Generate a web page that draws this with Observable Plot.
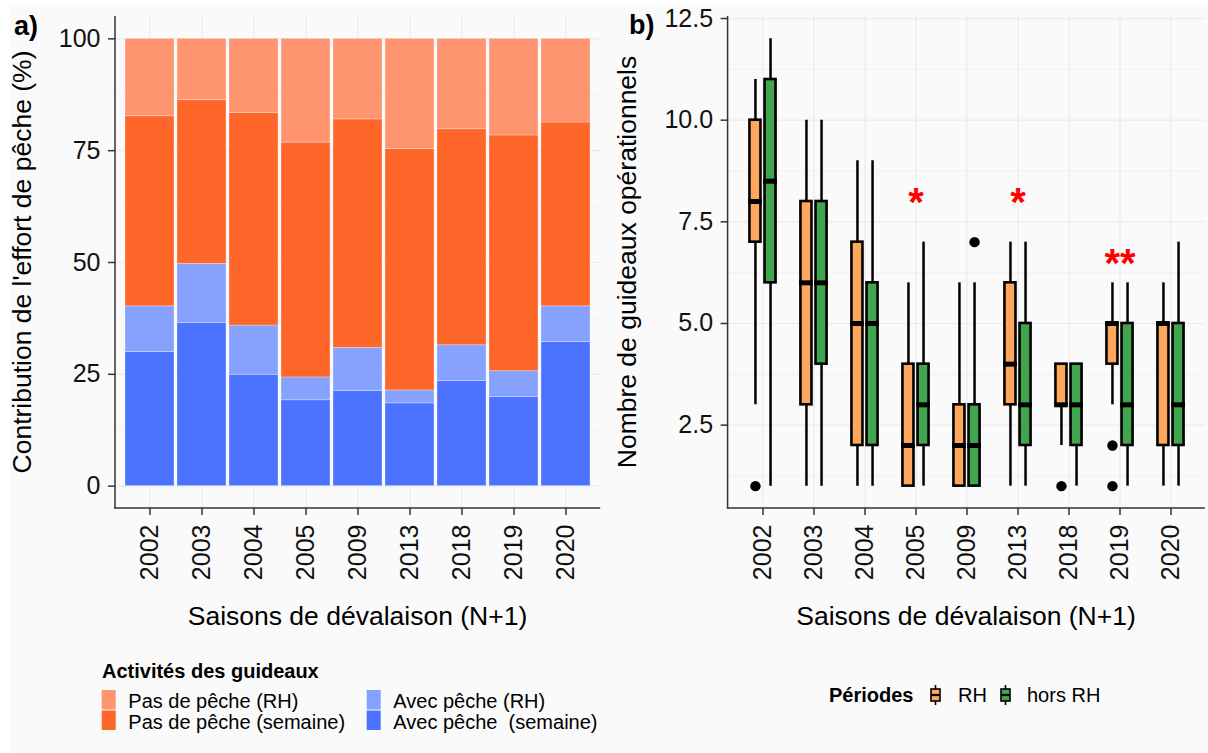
<!DOCTYPE html>
<html>
<head>
<meta charset="utf-8">
<script src="https://cdn.jsdelivr.net/npm/d3@7"></script>
<script src="https://cdn.jsdelivr.net/npm/@observablehq/plot@0.6"></script>
<style>
  html, body { margin: 0; padding: 0; background: #ffffff; }
  #root { position: relative; width: 1208px; height: 753px; overflow: hidden; font-family: "Liberation Sans", Arial, sans-serif; }
  #bg { position: absolute; left: 10px; top: 4px; right: 0; bottom: 0; background: #FAFAFA; }
  .panel { position: absolute; top: 0; }
  #overlay { position: absolute; left: 0; top: 0; pointer-events: none; }
  #overlay text { white-space: pre; }
</style>
</head>
<body>
<div id="root">
  <div id="bg"></div>
  <div id="panelA" class="panel" style="left:0px"></div>
  <div id="panelB" class="panel" style="left:610px"></div>
  <svg id="overlay" width="1208" height="753"></svg>
</div>
<script>
// ---------------- DATA ----------------
const years = ["2002", "2003", "2004", "2005", "2009", "2013", "2018", "2019", "2020"];

// Panel a) : contribution (%) of each activity, stacked bottom -> top
const activityNames = ["Avec pêche  (semaine)", "Avec pêche (RH)", "Pas de pêche (semaine)", "Pas de pêche (RH)"];
const activityColors = ["#4C73FF", "#87A1FF", "#FF6629", "#FF9470"];
const avecPecheSemaine = [30.0, 36.5, 24.9, 19.2, 21.3, 18.5, 23.5, 19.9, 32.2];
const avecPecheRH      = [10.2, 13.2, 11.0,  5.1,  9.6,  2.9,  8.0,  5.8,  8.0];
const pasPecheSemaine  = [42.5, 36.6, 47.5, 52.5, 51.1, 54.0, 48.3, 52.7, 41.1];
const pasPecheRH       = [17.3, 13.7, 16.6, 23.2, 18.0, 24.6, 20.2, 21.6, 18.7];
const yTicksA = [0, 25, 50, 75, 100];

// Panel b) : boxplot summaries, number of operational guideaux
const periodNames = ["RH", "hors RH"];
const periodColors = ["#FFA65D", "#41A44E"];
// RH
const rhLow  = [3, 1, 1, 1, 1, 1, 2, 3, 1];
const rhQ1   = [7, 3, 2, 1, 1, 3, 3, 4, 2];
const rhMed  = [8, 6, 5, 2, 2, 4, 3, 5, 5];
const rhQ3   = [10, 8, 7, 4, 3, 6, 4, 5, 5];
const rhHigh = [11, 10, 9, 6, 6, 7, 4, 6, 6];
const rhOutYears  = ["2002", "2018", "2019", "2019"];
const rhOutValues = [1, 1, 2, 1];
// hors RH
const hoLow  = [1, 1, 1, 1, 1, 1, 1, 1, 1];
const hoQ1   = [6, 4, 2, 2, 1, 2, 2, 2, 2];
const hoMed  = [8.5, 6, 5, 3, 2, 3, 3, 3, 3];
const hoQ3   = [11, 8, 6, 4, 3, 5, 4, 5, 5];
const hoHigh = [12, 10, 9, 7, 6, 7, 4, 6, 7];
const hoOutYears  = ["2009"];
const hoOutValues = [7];
// significance marks
const sigYears  = ["2005", "2013", "2019"];
const sigLabels = ["*", "*", "**"];
const sigY      = [8.2, 8.2, 6.7];
const yTicksB = [2.5, 5.0, 7.5, 10.0, 12.5];

// ---------------- TABLES ----------------
const seriesA = [avecPecheSemaine, avecPecheRH, pasPecheSemaine, pasPecheRH];
const barData = years.flatMap((yr, i) => activityNames.map((a, j) => ({year: yr, activity: a, value: seriesA[j][i]})));
const mkBox = (lo, q1, med, q3, hi) => years.map((yr, i) => ({year: yr, lo: lo[i], q1: q1[i], med: med[i], q3: q3[i], hi: hi[i]}));
const rhBoxes = mkBox(rhLow, rhQ1, rhMed, rhQ3, rhHigh);
const hoBoxes = mkBox(hoLow, hoQ1, hoMed, hoQ3, hoHigh);
const rhOut = rhOutYears.map((yr, i) => ({year: yr, v: rhOutValues[i]}));
const hoOut = hoOutYears.map((yr, i) => ({year: yr, v: hoOutValues[i]}));
const sig = sigYears.map((yr, i) => ({year: yr, label: sigLabels[i], y: sigY[i]}));

// ---------------- HELPERS ----------------
const FONT = "'Liberation Sans', Arial, Helvetica, sans-serif";
const GRID = "#EBEBEB";
const AXIS = "#333333";
function axisLines() {
  return (index, scales, values, dims) => {
    const g = d3.create("svg:g");
    const x0 = dims.marginLeft, x1 = dims.width - dims.marginRight;
    const y0 = dims.marginTop, y1 = dims.height - dims.marginBottom;
    g.append("line").attr("x1", x0).attr("x2", x0).attr("y1", y0).attr("y2", y1 + 0.75)
      .attr("stroke", AXIS).attr("stroke-width", 1.5);
    g.append("line").attr("x1", x0 - 0.75).attr("x2", x1).attr("y1", y1).attr("y2", y1)
      .attr("stroke", AXIS).attr("stroke-width", 1.5);
    return g.node();
  };
}
const commonStyle = {background: "transparent", fontFamily: FONT, fontSize: "25px", color: "#111", overflow: "visible"};

// ---------------- PANEL A ----------------
const plotA = Plot.plot({
  width: 610, height: 590,
  marginLeft: 115, marginRight: 9.8, marginTop: 16, marginBottom: 82,
  style: commonStyle,
  x: {type: "band", domain: years, paddingInner: 0.05, paddingOuter: 0.125, align: 0.5},
  y: {domain: [-5, 105]},
  color: {domain: activityNames, range: activityColors},
  marks: [
    Plot.gridY([12.5, 37.5, 62.5, 87.5], {stroke: GRID, strokeOpacity: 1, strokeWidth: 0.6}),
    Plot.gridY(yTicksA, {stroke: GRID, strokeOpacity: 1, strokeWidth: 1.2}),
    Plot.gridX(years, {stroke: GRID, strokeOpacity: 1, strokeWidth: 1.2}),
    Plot.barY(barData, {x: "year", y: "value", fill: "activity", stroke: "#ffffff", strokeOpacity: 0.35, strokeWidth: 0.8}),
    Plot.axisX({tickRotate: -90, tickSize: 7, tickPadding: 9, label: null, stroke: AXIS, strokeWidth: 1.5}),
    Plot.axisY({ticks: yTicksA, tickSize: 7, tickPadding: 8, label: null, stroke: AXIS, strokeWidth: 1.5}),
    axisLines()
  ]
});
document.getElementById("panelA").appendChild(plotA);

// ---------------- PANEL B ----------------
const STEP_HALF = 25.93;       // half band width (px)
const BOX_OUT = 13.5, BOX_IN = 1.6;
const insL_RH = STEP_HALF - BOX_OUT, insR_RH = STEP_HALF + BOX_IN;
const insL_HO = STEP_HALF + BOX_IN, insR_HO = STEP_HALF - BOX_OUT;
const OFF = (BOX_OUT + BOX_IN) / 2;
const plotB = Plot.plot({
  width: 598, height: 590,
  marginLeft: 117.6, marginRight: 3.2, marginTop: 16, marginBottom: 82,
  style: commonStyle,
  x: {type: "band", domain: years, paddingInner: 0, paddingOuter: 0.1, align: 0.5},
  y: {domain: [0.45, 12.55]},
  marks: [
    Plot.gridY([1.25, 3.75, 6.25, 8.75, 11.25], {stroke: GRID, strokeOpacity: 1, strokeWidth: 0.6}),
    Plot.gridY(yTicksB, {stroke: GRID, strokeOpacity: 1, strokeWidth: 1.2}),
    Plot.gridX(years, {stroke: GRID, strokeOpacity: 1, strokeWidth: 1.2}),
    // whiskers
    Plot.ruleX(rhBoxes, {x: "year", y1: "lo", y2: "hi", dx: -OFF, stroke: "black", strokeWidth: 2.5}),
    Plot.ruleX(hoBoxes, {x: "year", y1: "lo", y2: "hi", dx: OFF, stroke: "black", strokeWidth: 2.5}),
    // boxes
    Plot.barY(rhBoxes, {x: "year", y1: "q1", y2: "q3", fill: periodColors[0], stroke: "black", strokeWidth: 2.6, insetLeft: insL_RH, insetRight: insR_RH}),
    Plot.barY(hoBoxes, {x: "year", y1: "q1", y2: "q3", fill: periodColors[1], stroke: "black", strokeWidth: 2.6, insetLeft: insL_HO, insetRight: insR_HO}),
    // medians
    Plot.tickY(rhBoxes, {x: "year", y: "med", stroke: "black", strokeWidth: 5, insetLeft: insL_RH - 1.3, insetRight: insR_RH - 1.3}),
    Plot.tickY(hoBoxes, {x: "year", y: "med", stroke: "black", strokeWidth: 5, insetLeft: insL_HO - 1.3, insetRight: insR_HO - 1.3}),
    // outliers
    Plot.dot(rhOut, {x: "year", y: "v", r: 5.2, fill: "black", stroke: "none", dx: -OFF}),
    Plot.dot(hoOut, {x: "year", y: "v", r: 5.2, fill: "black", stroke: "none", dx: OFF}),
    // significance
    Plot.text(sig, {x: "year", y: "y", text: "label", fill: "#FF0000", fontSize: 40, fontWeight: "bold", dy: 10}),
    Plot.axisX({tickRotate: -90, tickSize: 7, tickPadding: 9, label: null, stroke: AXIS, strokeWidth: 1.5}),
    Plot.axisY({ticks: yTicksB, tickFormat: d3.format(".1f"), tickSize: 7, tickPadding: 8, label: null, stroke: AXIS, strokeWidth: 1.5}),
    axisLines()
  ]
});
document.getElementById("panelB").appendChild(plotB);

// ---------------- TITLES & LEGENDS ----------------
const ov = d3.select("#overlay").style("font-family", FONT);
// panel letters
ov.append("text").attr("x", 14).attr("y", 35).attr("font-size", 27).attr("font-weight", "bold").attr("fill", "#000").text("a)");
ov.append("text").attr("x", 629).attr("y", 34).attr("font-size", 27).attr("font-weight", "bold").attr("fill", "#000").text("b)");
// axis titles
ov.append("text").attr("transform", "translate(31,262) rotate(-90)").attr("text-anchor", "middle")
  .attr("font-size", 26.5).attr("fill", "#000").text("Contribution de l'effort de pêche (%)");
ov.append("text").attr("transform", "translate(636,262) rotate(-90)").attr("text-anchor", "middle")
  .attr("font-size", 26.5).attr("fill", "#000").text("Nombre de guideaux opérationnels");
ov.append("text").attr("x", 357.5).attr("y", 625).attr("text-anchor", "middle")
  .attr("font-size", 26.5).attr("fill", "#000").text("Saisons de dévalaison (N+1)");
ov.append("text").attr("x", 966).attr("y", 625).attr("text-anchor", "middle")
  .attr("font-size", 26.5).attr("fill", "#000").text("Saisons de dévalaison (N+1)");

// legend a)
ov.append("text").attr("x", 102).attr("y", 678).attr("font-size", 20).attr("font-weight", "bold").attr("fill", "#000").text("Activités des guideaux");
const legA = [
  {name: activityNames[3], color: activityColors[3], col: 0, row: 0},
  {name: activityNames[2], color: activityColors[2], col: 0, row: 1},
  {name: activityNames[1], color: activityColors[1], col: 1, row: 0},
  {name: activityNames[0], color: activityColors[0], col: 1, row: 1}
];
const colX = [101.7, 366.7];
legA.forEach(d => {
  const x = colX[d.col], y = 690 + d.row * 20.5;
  ov.append("rect").attr("x", x).attr("y", y).attr("width", 14).attr("height", 19.5).attr("fill", d.color);
  ov.append("text").attr("x", x + 26.6).attr("y", y + 18.3).attr("font-size", 20).attr("fill", "#000").text(d.name);
});

// legend b)
ov.append("text").attr("x", 829).attr("y", 702).attr("font-size", 20).attr("font-weight", "bold").attr("fill", "#000").text("Périodes");
function boxKey(x, color) {
  const g = ov.append("g");
  g.append("line").attr("x1", x).attr("x2", x).attr("y1", 685).attr("y2", 705).attr("stroke", "black").attr("stroke-width", 1.6);
  g.append("rect").attr("x", x - 4.5).attr("y", 689).attr("width", 9).attr("height", 12).attr("fill", color).attr("stroke", "black").attr("stroke-width", 1.6);
  g.append("line").attr("x1", x - 4.5).attr("x2", x + 4.5).attr("y1", 695).attr("y2", 695).attr("stroke", "black").attr("stroke-width", 2.2);
}
boxKey(935.5, periodColors[0]);
ov.append("text").attr("x", 958).attr("y", 702).attr("font-size", 20).attr("fill", "#000").text(periodNames[0]);
boxKey(1005.5, periodColors[1]);
ov.append("text").attr("x", 1027).attr("y", 702).attr("font-size", 20).attr("fill", "#000").text(periodNames[1]);
</script>
</body>
</html>
